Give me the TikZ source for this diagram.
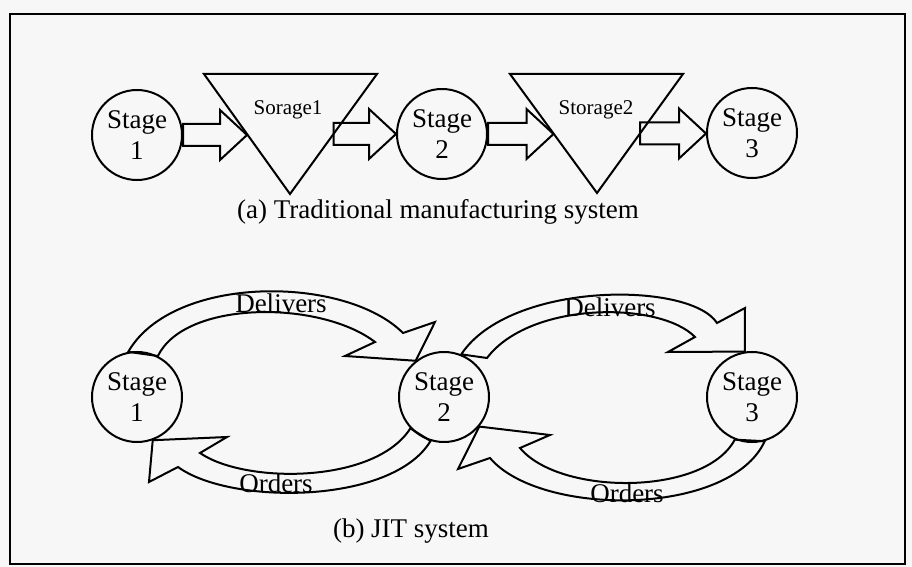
\documentclass[tikz,border=0pt]{standalone}
\usepackage{fontspec}
\setmainfont{Liberation Serif}
\usetikzlibrary{calc}

\tikzset{
  stage/.style={circle,draw,line width=1pt,inner sep=0pt,minimum size=45pt,align=center,font=\fontsize{13.5}{15.5}\selectfont},
  flow/.style={draw,line width=1pt,line join=miter},
  lbl/.style={font=\fontsize{13.5}{15.5}\selectfont},
  small/.style={font=\fontsize{10.5}{12}\selectfont}
}

\begin{document}
\begin{tikzpicture}[x=0.5pt,y=-0.5pt]
        \fill[black!3] (0,0) rectangle (912,567);
        \useasboundingbox (0,0) rectangle (912,567);
        \draw[line width=1pt] (10,14) rectangle (905,564);

        % (a) traditional system
        \node[stage] (st1) at (137,135) {Stage\\1};
        \node[stage] (st2) at (442,134) {Stage\\2};
        \node[stage] (st3) at (752,133) {Stage\\3};

        \coordinate (sa1) at (204,74);
        \coordinate (sb1) at (377,74);
        \coordinate (sc1) at (290,194);
        \coordinate (sa2) at (510,74);
        \coordinate (sb2) at (683,74);
        \coordinate (sc2) at (597,193);
        \coordinate (in1) at ($(sa1)!0.5!(sc1)$);
        \coordinate (out1) at ($(sb1)!0.5!(sc1)$);
        \coordinate (in2) at ($(sa2)!0.5!(sc2)$);
        \coordinate (out2) at ($(sb2)!0.5!(sc2)$);

        \draw[flow] (sa1) -- (sb1) -- (sc1) -- cycle;
        \draw[flow] (sa2) -- (sb2) -- (sc2) -- cycle;
        \node[small] (store1) at (288,110) {Sorage1};
        \node[small] (store2) at (596,110) {Storage2};

        \foreach \a/\b in {st1.east/in1, out1/st2.west, st2.east/in2, out2/st3.west}
          \draw[flow] ($(\a)+(0,-11)$) -- ($(\a -| \b)+(-27,-11)$) -- ($(\a -| \b)+(-27,-25)$)
            -- (\a -| \b) -- ($(\a -| \b)+(-27,25)$) -- ($(\a -| \b)+(-27,11)$) -- ($(\a)+(0,11)$) -- cycle;

        \node[lbl] (capa) at (438,212) {(a) Traditional manufacturing system};

        % (b) JIT system
        \node[stage] (jit1) at (137,397) {Stage\\1};
        \node[stage] (jit2) at (444,397) {Stage\\2};
        \node[stage] (jit3) at (752,397) {Stage\\3};

        \draw[flow] (jit1.101) .. controls (173,274) and (345,275) .. (403,333) -- (435,322) -- (jit2.128)
          -- (345,356) -- (375,342) .. controls (320,300) and (185,300) .. (jit1.63) -- cycle;
        \draw[flow] (jit2.-107) .. controls (392,505) and (230,505) .. (178,467) -- (149,482) -- (jit1.-70)
          -- (227,437) -- (200,453) .. controls (245,484) and (375,484) .. (jit2.-137) -- cycle;
        \draw[flow] (jit2.68) .. controls (510,281) and (690,281) .. (717,323) -- (745,308) -- (jit3.99)
          -- (668,352) -- (695,337) .. controls (660,301) and (530,301) .. (487,358) -- cycle;
        \draw[flow] (jit3.-74) .. controls (730,517) and (540,517) .. (490,458) -- (458,469) -- (jit2.-40)
          -- (550,435) -- (520,448) .. controls (560,496) and (705,496) .. (jit3.-112) -- cycle;

        \node[lbl] (del1) at (281,303) {Delivers};
        \node[lbl] (ord1) at (276,483) {Orders};
        \node[lbl] (del2) at (610,307) {Delivers};
        \node[lbl] (ord2) at (627,493) {Orders};

        \node[lbl] (capb) at (411,531) {(b) JIT system};
    \end{tikzpicture}
\end{document}
